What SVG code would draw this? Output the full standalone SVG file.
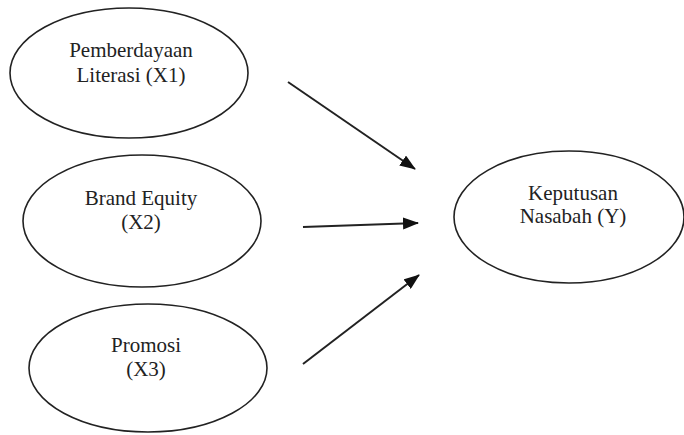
<svg xmlns="http://www.w3.org/2000/svg" width="684" height="435" viewBox="0 0 684 435">
<defs>
<style>
.n ellipse{fill:#fff;stroke:#222;stroke-width:1.6}
.n text{font-family:'Liberation Serif','Times New Roman',serif;font-size:21px;fill:#222;text-anchor:middle}
.c line{stroke:#222;stroke-width:2;marker-end:url(#ah)}
</style>
<marker id="ah" markerUnits="userSpaceOnUse" markerWidth="16" markerHeight="12" refX="15" refY="6" orient="auto">
<path d="M0,0 L16,6 L0,12 Z" fill="#111"/>
</marker>
</defs>
<rect width="684" height="435" fill="#fff"/>
<g id="x1" class="n">
<ellipse cx="129" cy="73" rx="119" ry="65"/>
<text x="131" y="57">Pemberdayaan</text>
<text x="131" y="82">Literasi (X1)</text>
</g>
<g id="x2" class="n">
<ellipse cx="142" cy="221" rx="119" ry="66"/>
<text x="141" y="205">Brand Equity</text>
<text x="141" y="229">(X2)</text>
</g>
<g id="x3" class="n">
<ellipse cx="148" cy="368" rx="119" ry="64"/>
<text x="146" y="352">Promosi</text>
<text x="146" y="376">(X3)</text>
</g>
<g id="y" class="n">
<ellipse cx="569" cy="217" rx="115" ry="66"/>
<text x="573" y="200">Keputusan</text>
<text x="573" y="223">Nasabah (Y)</text>
</g>
<g id="connectors" class="c">
<line x1="288" y1="82" x2="415" y2="169"/>
<line x1="303" y1="227" x2="418" y2="223"/>
<line x1="303" y1="364" x2="419" y2="275"/>
</g>
</svg>
